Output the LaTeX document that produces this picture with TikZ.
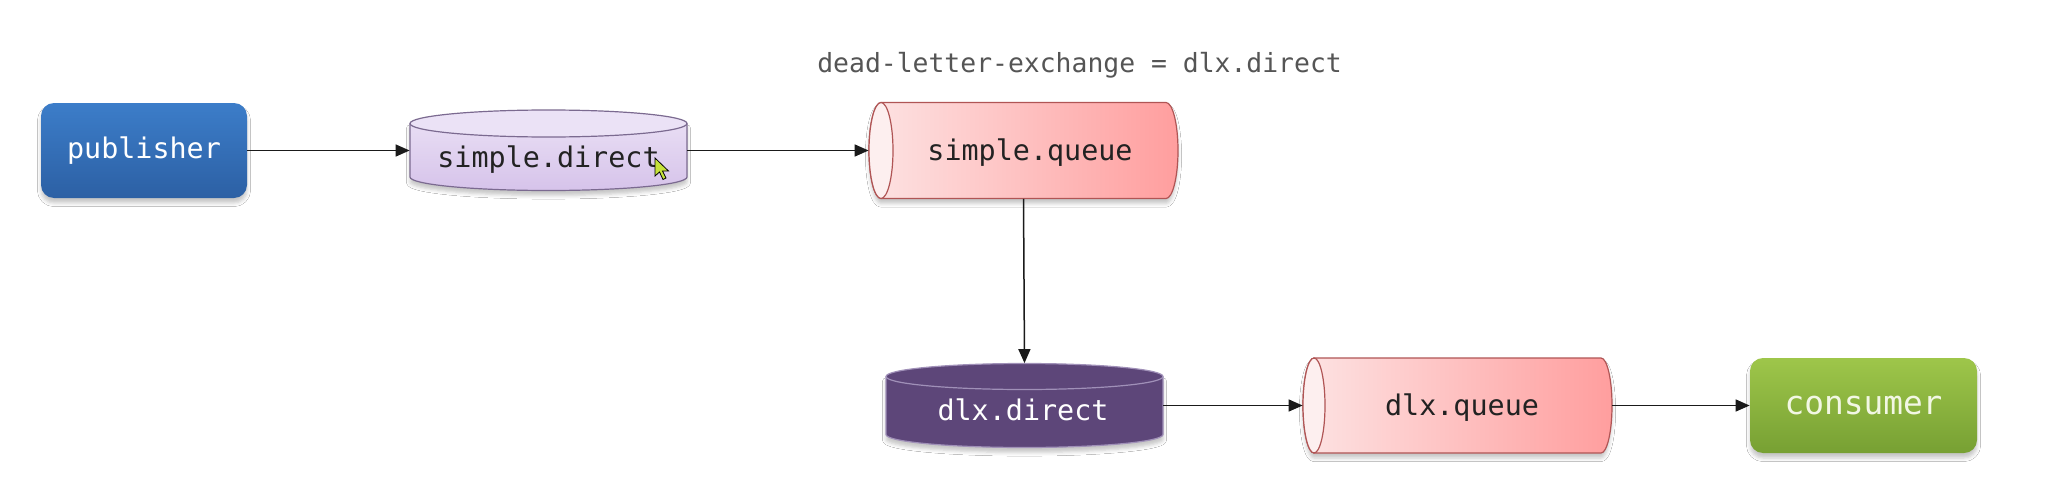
\documentclass[tikz,border=0pt]{standalone}
\usepackage{fontspec}
\newfontfamily\mono{DejaVu Sans Mono}
\usetikzlibrary{arrows.meta,shadows.blur}
\definecolor{pubtop}{HTML}{3C7DC9}
\definecolor{pubbot}{HTML}{2C60A4}
\definecolor{contop}{HTML}{9EC64A}
\definecolor{conbot}{HTML}{77A033}
\definecolor{contxt}{HTML}{F2F7E4}
\definecolor{sdtopc}{HTML}{E8DDF4}
\definecolor{sdbotc}{HTML}{D6C3EA}
\definecolor{sdend}{HTML}{EBE2F6}
\definecolor{sdline}{HTML}{7B6A90}
\definecolor{dlxfill}{HTML}{5D4679}
\definecolor{dlxline}{HTML}{A090B8}
\definecolor{qleft}{HTML}{FDE3E3}
\definecolor{qright}{HTML}{FF9E9E}
\definecolor{qend}{HTML}{FDEFEF}
\definecolor{qline}{HTML}{B05555}
\definecolor{arrowc}{HTML}{1A1A1A}
\definecolor{labelc}{HTML}{555555}
\definecolor{darktxt}{HTML}{222222}
\definecolor{cursorc}{HTML}{C6E23A}
\begin{document}
\begin{tikzpicture}[x=0.5pt,y=0.5pt,
  myshadow/.style={blur shadow={shadow xshift=0pt,shadow yshift=-2.5pt,shadow blur radius=1.8pt,shadow opacity=22}},
  box/.style={rounded corners=6.5pt, minimum height=47.5pt, inner sep=0pt,
    font=\mono\fontsize{14.2}{16}\selectfont, text=white, myshadow},
  holder/.style={inner sep=0pt, draw=none},
  txt/.style={anchor=base, inner sep=0pt, font=\mono\fontsize{14.2}{16}\selectfont},
  flow/.style={draw=arrowc, line width=0.75pt, -{Triangle[length=7pt,width=6pt]}},
  cylline/.style={line width=0.6pt}
]
\useasboundingbox (0,0) rectangle (2067,478);
\fill[white] (0,0) rectangle (2067,478);

% label
\node[anchor=base, inner sep=0pt, font=\mono\fontsize{13.2}{15}\selectfont, text=labelc] (lbl) at (1079.6,406) {dead-letter-exchange = dlx.direct};

% publisher
\node[box, top color=pubtop, bottom color=pubbot, minimum width=103pt] (pub) at (144,327.5) {publisher};

% simple.direct (vertical cylinder)
\node[holder, minimum width=138.5pt, minimum height=40.5pt] (sd) at (548.5,327.5) {};
\path[myshadow, top color=sdtopc, bottom color=sdbotc] (410,354.5) -- (410,301) arc[start angle=180,end angle=360,x radius=138.5,y radius=13.5] -- (687,354.5) -- cycle;
\draw[sdline, cylline] (410,354.5) -- (410,301) arc[start angle=180,end angle=360,x radius=138.5,y radius=13.5] -- (687,354.5);
\filldraw[fill=sdend, draw=sdline, cylline] (548.5,354.5) ellipse[x radius=138.5,y radius=13.5];
\node[txt, text=darktxt] (sdt) at (548.5,311) {simple.direct};

% simple.queue (horizontal cylinder)
\node[holder, minimum width=154.5pt, minimum height=48pt] (sq) at (1023.5,327.5) {};
\path[myshadow, left color=qleft, right color=qright, draw=qline, cylline] (881,375.5) -- (1166,375.5) arc[start angle=90,end angle=-90,x radius=12,y radius=48] -- (881,279.5) arc[start angle=270,end angle=90,x radius=12,y radius=48] -- cycle;
\filldraw[fill=qend, draw=qline, cylline] (881,327.5) ellipse[x radius=12,y radius=48];
\node[txt, text=darktxt] (sqt) at (1030,318) {simple.queue};

% dlx.direct (vertical cylinder)
\node[holder, minimum width=138.5pt, minimum height=42pt] (dd) at (1024.5,72.5) {};
\path[myshadow, fill=dlxfill] (886,101.5) -- (886,43.5) arc[start angle=180,end angle=360,x radius=138.5,y radius=13] -- (1163,101.5) -- cycle;
\draw[dlxline, cylline] (886,101.5) -- (886,43.5) arc[start angle=180,end angle=360,x radius=138.5,y radius=13] -- (1163,101.5);
\filldraw[fill=dlxfill, draw=dlxline, cylline] (1024.5,101.5) ellipse[x radius=138.5,y radius=13];
\node[txt, text=white] (ddt) at (1023,58) {dlx.direct};

% dlx.queue (horizontal cylinder)
\node[holder, minimum width=154.5pt, minimum height=47.5pt] (dq) at (1457.5,72.5) {};
\path[myshadow, left color=qleft, right color=qright, draw=qline, cylline] (1314,120) -- (1601,120) arc[start angle=90,end angle=-90,x radius=11,y radius=47.5] -- (1314,25) arc[start angle=270,end angle=90,x radius=11,y radius=47.5] -- cycle;
\filldraw[fill=qend, draw=qline, cylline] (1314,72.5) ellipse[x radius=11,y radius=47.5];
\node[txt, text=darktxt] (dqt) at (1462,63) {dlx.queue};

% consumer
\node[box, top color=contop, bottom color=conbot, minimum width=113.5pt, text=contxt, font=\mono\fontsize{16.4}{18}\selectfont] (con) at (1863.5,72.5) {consumer};

% connectors
\draw[flow] (pub.east) -- (sd.west);
\draw[flow] (sd.east) -- (sq.west);
\draw[flow] (sq.south) -- (dd.north);
\draw[flow] (dd.east) -- (dq.west);
\draw[flow] (dq.east) -- (con.west);

% mouse cursor
\filldraw[fill=cursorc, draw=black, line width=0.4pt] (655,320) -- (655,302) -- (659.5,306) -- (663,298.5) -- (666,300) -- (662.5,307) -- (668.5,307) -- cycle;
\end{tikzpicture}
\end{document}
